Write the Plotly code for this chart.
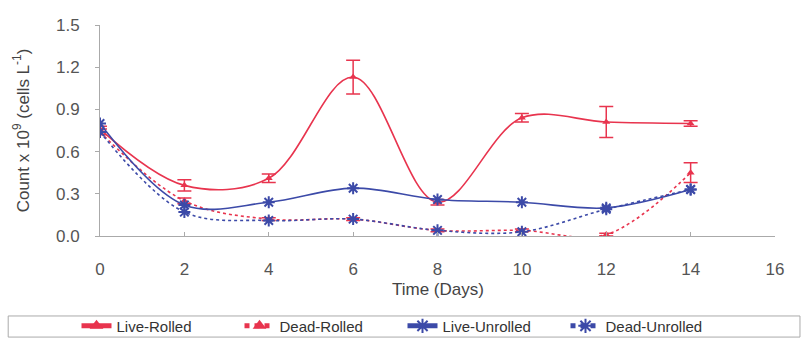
import plotly.graph_objects as go

days = [0, 2, 4, 6, 8, 10, 12, 14]
live_rolled = [0.76, 0.36, 0.41, 1.13, 0.24, 0.84, 0.81, 0.80]
live_rolled_err = [0.02, 0.04, 0.03, 0.12, 0.02, 0.03, 0.11, 0.02]
dead_rolled = [0.74, 0.25, 0.12, 0.12, 0.04, 0.04, 0.01, 0.45]
dead_rolled_err = [0.02, 0.02, 0.01, 0.01, 0.01, 0.01, 0.01, 0.07]
live_unrolled = [0.80, 0.22, 0.24, 0.34, 0.26, 0.24, 0.20, 0.33]
dead_unrolled = [0.74, 0.17, 0.11, 0.12, 0.04, 0.03, 0.19, 0.33]

RED = "#e8344e"
BLUE = "#3c4aa8"

fig = go.Figure()
fig.add_trace(go.Scatter(
    x=days, y=live_rolled, name="Live-Rolled", mode="lines+markers",
    line=dict(color=RED, width=1.6, shape="spline", smoothing=1.0),
    marker=dict(symbol="triangle-up", size=7, color=RED),
    error_y=dict(type="data", array=live_rolled_err, color=RED, thickness=1.5, width=7)))
fig.add_trace(go.Scatter(
    x=days, y=dead_rolled, name="Dead-Rolled", mode="lines+markers",
    line=dict(color=RED, width=1.6, dash="dot", shape="spline", smoothing=1.0),
    marker=dict(symbol="triangle-up", size=7, color=RED),
    error_y=dict(type="data", array=dead_rolled_err, color=RED, thickness=1.5, width=7)))
fig.add_trace(go.Scatter(
    x=days, y=live_unrolled, name="Live-Unrolled", mode="lines+markers",
    line=dict(color=BLUE, width=1.6, shape="spline", smoothing=1.0),
    marker=dict(symbol="asterisk", size=10, color=BLUE, line=dict(color=BLUE, width=2))))
fig.add_trace(go.Scatter(
    x=days, y=dead_unrolled, name="Dead-Unrolled", mode="lines+markers",
    line=dict(color=BLUE, width=1.6, dash="dot", shape="spline", smoothing=1.0),
    marker=dict(symbol="asterisk", size=10, color=BLUE, line=dict(color=BLUE, width=2))))

fig.update_layout(
    width=805, height=339,
    margin=dict(l=100, r=30, t=25, b=103, autoexpand=False),
    paper_bgcolor="white", plot_bgcolor="white",
    font=dict(family="Liberation Sans, Arial, sans-serif", size=17, color="#555555"),
    showlegend=True,
    legend=dict(orientation="h", xref="container", yref="container",
                x=0.5, xanchor="center", y=0.038, yanchor="middle",
                bgcolor="rgba(0,0,0,0)", borderwidth=0,
                font=dict(size=15, color="#333333"),
                entrywidth=118, entrywidthmode="pixels", tracegroupgap=0,
                itemsizing="constant"),
    xaxis=dict(range=[0, 16], tickvals=[0, 2, 4, 6, 8, 10, 12, 14, 16],
               showgrid=False, zeroline=False, showline=True, linecolor="#aaaaaa",
               ticks="inside", ticklen=4, tickcolor="#aaaaaa", ticklabelstandoff=18),
    yaxis=dict(range=[0, 1.5], tickvals=[0, 0.3, 0.6, 0.9, 1.2, 1.5], tickformat=".1f",
               showgrid=False, zeroline=False, showline=True, linecolor="#aaaaaa",
               ticks="outside", ticklen=4, tickcolor="#aaaaaa", ticklabelstandoff=12,
               title=dict(text="Count x 10<sup>9</sup> (cells L<sup>-1</sup>)", standoff=22,
                          font=dict(size=17, color="#444444"))),
    annotations=[dict(text="Time (Days)", xref="paper", yref="paper", x=0.5, y=-0.255,
                      xanchor="center", yanchor="middle", showarrow=False,
                      font=dict(size=17, color="#444444"))],
    shapes=[dict(type="rect", xref="paper", yref="paper",
                 x0=-0.136, x1=1.037, y0=-0.479, y1=-0.379,
                 line=dict(color="#aaaaaa", width=1), fillcolor="rgba(0,0,0,0)")],
)

fig.write_html("out.html")
